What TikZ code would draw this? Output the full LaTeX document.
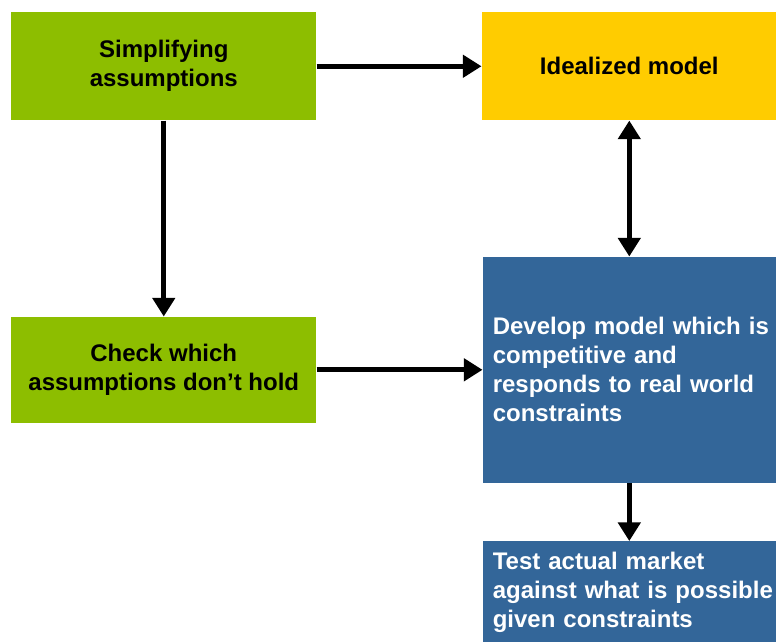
\documentclass[tikz,border=0pt]{standalone}
\usepackage{fontspec}
\setmainfont{Liberation Sans}
\usepackage{tikz}
\usetikzlibrary{positioning,arrows.meta}

\definecolor{leafgreen}{RGB}{141,190,0}
\definecolor{goldyellow}{RGB}{255,204,0}
\definecolor{steelblue}{RGB}{51,102,153}

\begin{document}
\begin{tikzpicture}[
		font=\fontsize{18}{21.75}\selectfont\bfseries,
		greenbox/.style={rectangle, fill=leafgreen, align=center, minimum width=228.75pt, inner sep=0pt},
		yellowbox/.style={rectangle, fill=goldyellow, align=center, minimum width=221.25pt, minimum height=81pt, inner sep=0pt},
		bluebox/.style={rectangle, fill=steelblue, text=white, align=left, text width=204.75pt, inner xsep=7.5pt, inner ysep=0pt},
		flow/.style={line width=3.5pt, -{Triangle[length=14pt,width=16.5pt]}},
		twoway/.style={line width=3.5pt, {Triangle[length=14pt,width=16.5pt]}-{Triangle[length=14pt,width=16.5pt]}}
	]
		\useasboundingbox (0,0) rectangle (582pt,-481.5pt);
		
		\node[greenbox, minimum height=81pt, anchor=north west] (simp) at (8.25pt,-9pt) {Simplifying\\assumptions};
		\node[yellowbox, right=123.75pt of simp] (ideal) {Idealized model};
		
		\node[greenbox, minimum height=79.5pt, below=147pt of simp] (check) {Check which\\assumptions don’t hold};
		% long lines run a little past the text width, keep them whole
		\node[bluebox, minimum height=169.5pt, below=102pt of ideal] (develop) {\mbox{Develop model which is}\\\mbox{competitive and}\\\mbox{responds to real world}\\\mbox{constraints}};
		\node[bluebox, minimum height=76.5pt, below=43.5pt of develop] (test) {\mbox{Test actual market}\\\mbox{against what is possible}\\\mbox{given constraints}};
		
		\draw[flow] (simp) -- (ideal);
		\draw[flow] (simp) -- (check);
		\draw[twoway] (ideal) -- (develop);
		\draw[flow] (check) -- (develop);
		\draw[flow] (develop) -- (test);
	\end{tikzpicture}
\end{document}
